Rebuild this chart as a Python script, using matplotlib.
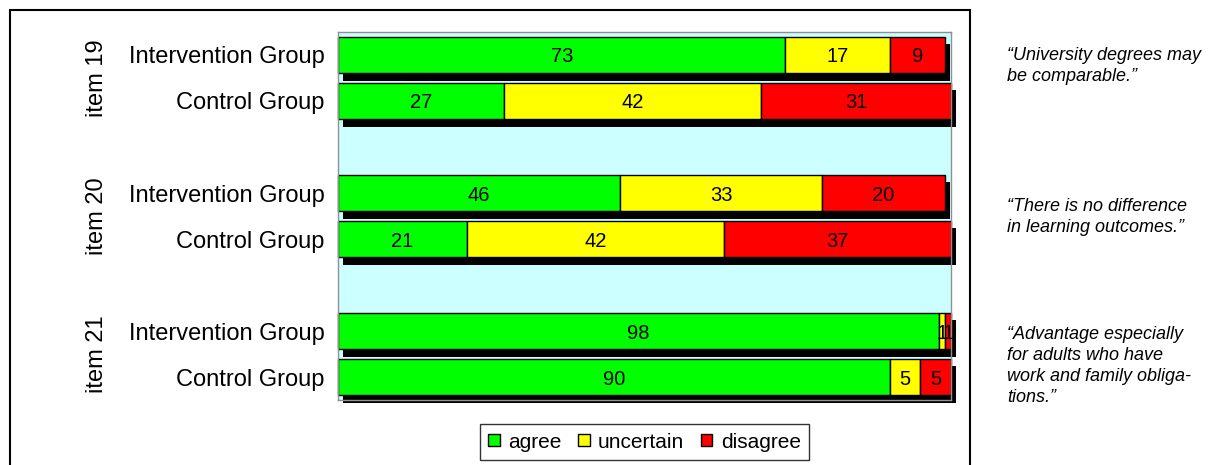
import matplotlib
matplotlib.use("Agg")
import matplotlib.pyplot as plt
import matplotlib.patheffects as pe
from matplotlib.patches import Rectangle, Patch
from matplotlib.transforms import blended_transform_factory

plt.rcParams['font.family'] = ['Liberation Sans', 'DejaVu Sans']

# Survey answers (percent) per row, top to bottom
items = ["item 19", "item 20", "item 21"]
groups = ["Intervention Group", "Control Group"]
agree = [73, 27, 46, 21, 98, 90]
uncertain = [17, 42, 33, 42, 1, 5]
disagree = [9, 31, 20, 37, 1, 5]
categories = ["agree", "uncertain", "disagree"]
colors = ["#00FF00", "#FFFF00", "#FF0000"]
quotes = [
    "\u201cUniversity degrees may\nbe comparable.\u201d",
    "\u201cThere is no difference\nin learning outcomes.\u201d",
    "\u201cAdvantage especially\nfor adults who have\nwork and family obliga-\ntions.\u201d",
]
quote_tops = [0.899, 0.574, 0.299]

# Row positions: two bars per item, one empty slot between items
positions = []
for i in range(len(items)):
    positions += [3 * i, 3 * i + 1]
row_labels = groups * len(items)

W, H = 1210, 465
fig = plt.figure(figsize=(W / 100, H / 100), dpi=100)
ax = fig.add_axes([338 / W, 1 - 400 / H, (951 - 338) / W, (400 - 32) / H])
ax.set_facecolor("#CCFFFF")

shadow = [pe.SimplePatchShadow(offset=(3.8, -5.4), shadow_rgbFace="black", alpha=1.0), pe.Normal()]

left = [0] * len(positions)
for cat, vals, col in zip(categories, [agree, uncertain, disagree], colors):
    bars = ax.barh(positions, vals, left=left, height=0.8, color=col,
                   edgecolor="black", linewidth=1.0, label=cat, clip_on=False)
    for b, v, l, p in zip(bars, vals, left, positions):
        b.set_path_effects(shadow)
        ax.text(l + v / 2, p, str(v), ha="center", va="center_baseline",
                fontsize=14.5, color="black", zorder=5)
    left = [l + v for l, v in zip(left, vals)]

ax.set_xlim(0, 100)
ax.set_ylim(len(items) * 3 - 1 - 0.5, -0.5)
ax.set_xticks([])
ax.set_yticks(positions)
ax.set_yticklabels(row_labels, fontsize=17)
ax.tick_params(axis="y", length=0, pad=9.5)
for s in ax.spines.values():
    s.set_color("#909090")
    s.set_linewidth(1.0)

# Item labels, rotated, centred on each pair of bars
trans = blended_transform_factory(fig.transFigure, ax.transData)
for i, name in enumerate(items):
    fig.text(97 / W, 3 * i + 0.5, name, rotation=90, ha="center", va="center",
             fontsize=17, transform=trans)

# Statements next to each item
for q, t in zip(quotes, quote_tops):
    fig.text(1007 / W, t, q, ha="left", va="top", fontsize=13,
             style="italic", linespacing=1.3)

# Outer frame around the chart
fig.patches.append(Rectangle((10 / W, -0.2), 960 / W, 1.2 - 10 / H,
                             transform=fig.transFigure, fill=False,
                             edgecolor="black", linewidth=1.5, clip_on=False))

handles = [Patch(facecolor=c, edgecolor="black", linewidth=1.0, label=n)
           for n, c in zip(categories, colors)]
leg = fig.legend(handles=handles, loc="center", ncol=3,
                 bbox_to_anchor=(644.5 / W, 1 - 442 / H), fontsize=15,
                 frameon=True, fancybox=False, edgecolor="black",
                 handlelength=0.55, handleheight=0.55, handletextpad=0.4,
                 columnspacing=0.8, borderpad=0.4)
leg.get_frame().set_linewidth(1.0)

fig.savefig("out.png", dpi=100)
